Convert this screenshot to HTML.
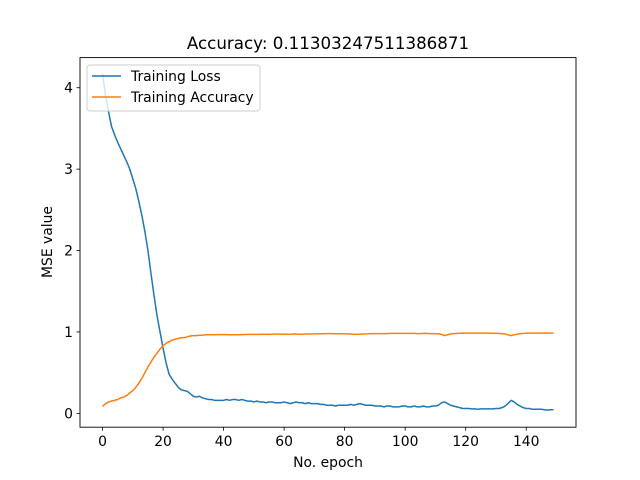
<!DOCTYPE html>
<html><head><meta charset="utf-8"><style>
body{margin:0;background:#fff;}
svg{display:block;font-family:"DejaVu Sans","Liberation Sans",sans-serif;}
</style></head><body>
<svg id="chart" width="640" height="480">
<rect width="640" height="480" fill="#fff"/>
<text x="328" y="49" font-size="16.7" text-anchor="middle">Accuracy: 0.11303247511386871</text>
<g id="plot"></g>
<rect x="80" y="57.6" width="496" height="369.6" fill="none" stroke="#000" stroke-width="0.9"/>
<text x="328" y="467" font-size="13.9" text-anchor="middle">No. epoch</text>
<text transform="translate(52,242) rotate(-90)" font-size="13.9" text-anchor="middle">MSE value</text>
<g>
<rect x="87" y="65" width="173" height="46" rx="3" fill="#fff" fill-opacity="0.8" stroke="#ccc" stroke-width="0.9"/>
<line x1="92" y1="76" x2="121" y2="76" stroke="#1f77b4" stroke-width="1.6"/>
<text x="131" y="81" font-size="13.9">Training Loss</text>
<line x1="92" y1="97" x2="121" y2="97" stroke="#ff7f0e" stroke-width="1.6"/>
<text x="131" y="102" font-size="13.9">Training Accuracy</text>
</g>
</svg>
<script>
const xTicks=[0,20,40,60,80,100,120,140];
const yTicks=[0,1,2,3,4];
const loss=[4.17,3.9,3.7,3.52,3.42,3.33,3.25,3.17,3.09,3.0,2.88,2.76,2.6,2.43,2.23,2.0,1.72,1.45,1.2,1.0,0.8,0.62,0.48,0.42,0.37,0.32,0.29,0.28,0.27,0.24,0.21,0.2,0.21,0.19,0.18,0.17,0.17,0.16,0.16,0.16,
0.16,0.17,0.16,0.17,0.17,0.16,0.17,0.16,0.15,0.15,0.14,0.15,0.14,0.14,0.13,0.14,0.14,0.13,0.13,0.13,
0.14,0.13,0.12,0.13,0.14,0.13,0.13,0.12,0.13,0.12,0.12,0.12,0.11,0.11,0.1,0.1,0.1,0.09,0.1,0.1,
0.1,0.1,0.11,0.1,0.11,0.12,0.11,0.1,0.1,0.1,0.09,0.09,0.09,0.08,0.09,0.09,0.08,0.08,0.08,0.09,
0.09,0.08,0.08,0.09,0.08,0.08,0.09,0.08,0.08,0.09,0.09,0.1,0.13,0.14,0.12,0.1,0.09,0.08,0.07,0.06,
0.06,0.06,0.055,0.055,0.05,0.055,0.055,0.055,0.055,0.055,0.06,0.06,0.07,0.09,0.12,0.16,0.14,0.11,0.09,0.07,
0.06,0.06,0.05,0.05,0.05,0.05,0.045,0.04,0.045,0.045];
const accuracy=[0.085,0.12,0.14,0.15,0.16,0.17,0.19,0.2,0.22,0.25,0.28,0.32,0.37,0.43,0.5,0.57,0.63,0.69,0.74,0.79,0.83,0.86,0.88,0.9,0.91,0.92,0.93,0.93,0.94,0.95,0.955,0.955,0.96,0.96,0.965,0.965,0.965,0.965,0.967,0.967,
0.968,0.967,0.966,0.965,0.966,0.966,0.967,0.968,0.97,0.97,0.97,0.97,0.97,0.972,0.972,0.97,0.972,0.975,0.975,0.972,
0.975,0.97,0.972,0.975,0.975,0.972,0.972,0.975,0.975,0.975,0.977,0.978,0.978,0.978,0.98,0.98,0.98,0.978,0.978,0.978,
0.978,0.975,0.975,0.972,0.97,0.972,0.975,0.977,0.978,0.98,0.98,0.98,0.98,0.98,0.98,0.982,0.982,0.982,0.982,0.982,
0.982,0.982,0.982,0.982,0.98,0.98,0.982,0.982,0.98,0.98,0.978,0.978,0.97,0.955,0.965,0.975,0.98,0.982,0.984,0.985,
0.985,0.985,0.985,0.985,0.985,0.985,0.985,0.985,0.984,0.984,0.983,0.982,0.98,0.975,0.965,0.955,0.965,0.972,0.978,0.982,
0.984,0.985,0.985,0.985,0.985,0.985,0.985,0.985,0.985,0.985];
const L=80,R=576,T=57.6,B=427.2;
const xMin=-7.45,xMax=156.45,yMin=-0.17,yMax=4.37;
const sx=v=>L+(v-xMin)/(xMax-xMin)*(R-L);
const sy=v=>B-(v-yMin)/(yMax-yMin)*(B-T);
const NS="http://www.w3.org/2000/svg";
const g=document.getElementById('plot');
function mk(t,a){const e=document.createElementNS(NS,t);for(const k in a)e.setAttribute(k,a[k]);g.appendChild(e);return e;}
xTicks.forEach(v=>{
 const l=mk('line',{x1:sx(v),x2:sx(v),y1:B,y2:B+3.5,stroke:'#000','stroke-width':0.8});
 
 
 const t=mk('text',{x:sx(v),y:B+19,'font-size':13.9,'text-anchor':'middle'});t.textContent=v;
 
 
});
yTicks.forEach(v=>{
 const l=mk('line',{x1:L-3.5,x2:L,y1:sy(v),y2:sy(v),stroke:'#000','stroke-width':0.8});
 
 
 const t=mk('text',{x:L-7,y:sy(v)+5,'font-size':13.9,'text-anchor':'end'});t.textContent=v;
 
 
});
function line(arr,c,name){
 const p=mk('polyline',{points:arr.map((v,i)=>sx(i)+','+sy(v)).join(' '),fill:'none',stroke:c,'stroke-width':1.5,'stroke-linejoin':'round'});
 
 
}
line(loss,'#1f77b4','training-loss-line');
line(accuracy,'#ff7f0e','training-accuracy-line');
</script>
</body></html>
